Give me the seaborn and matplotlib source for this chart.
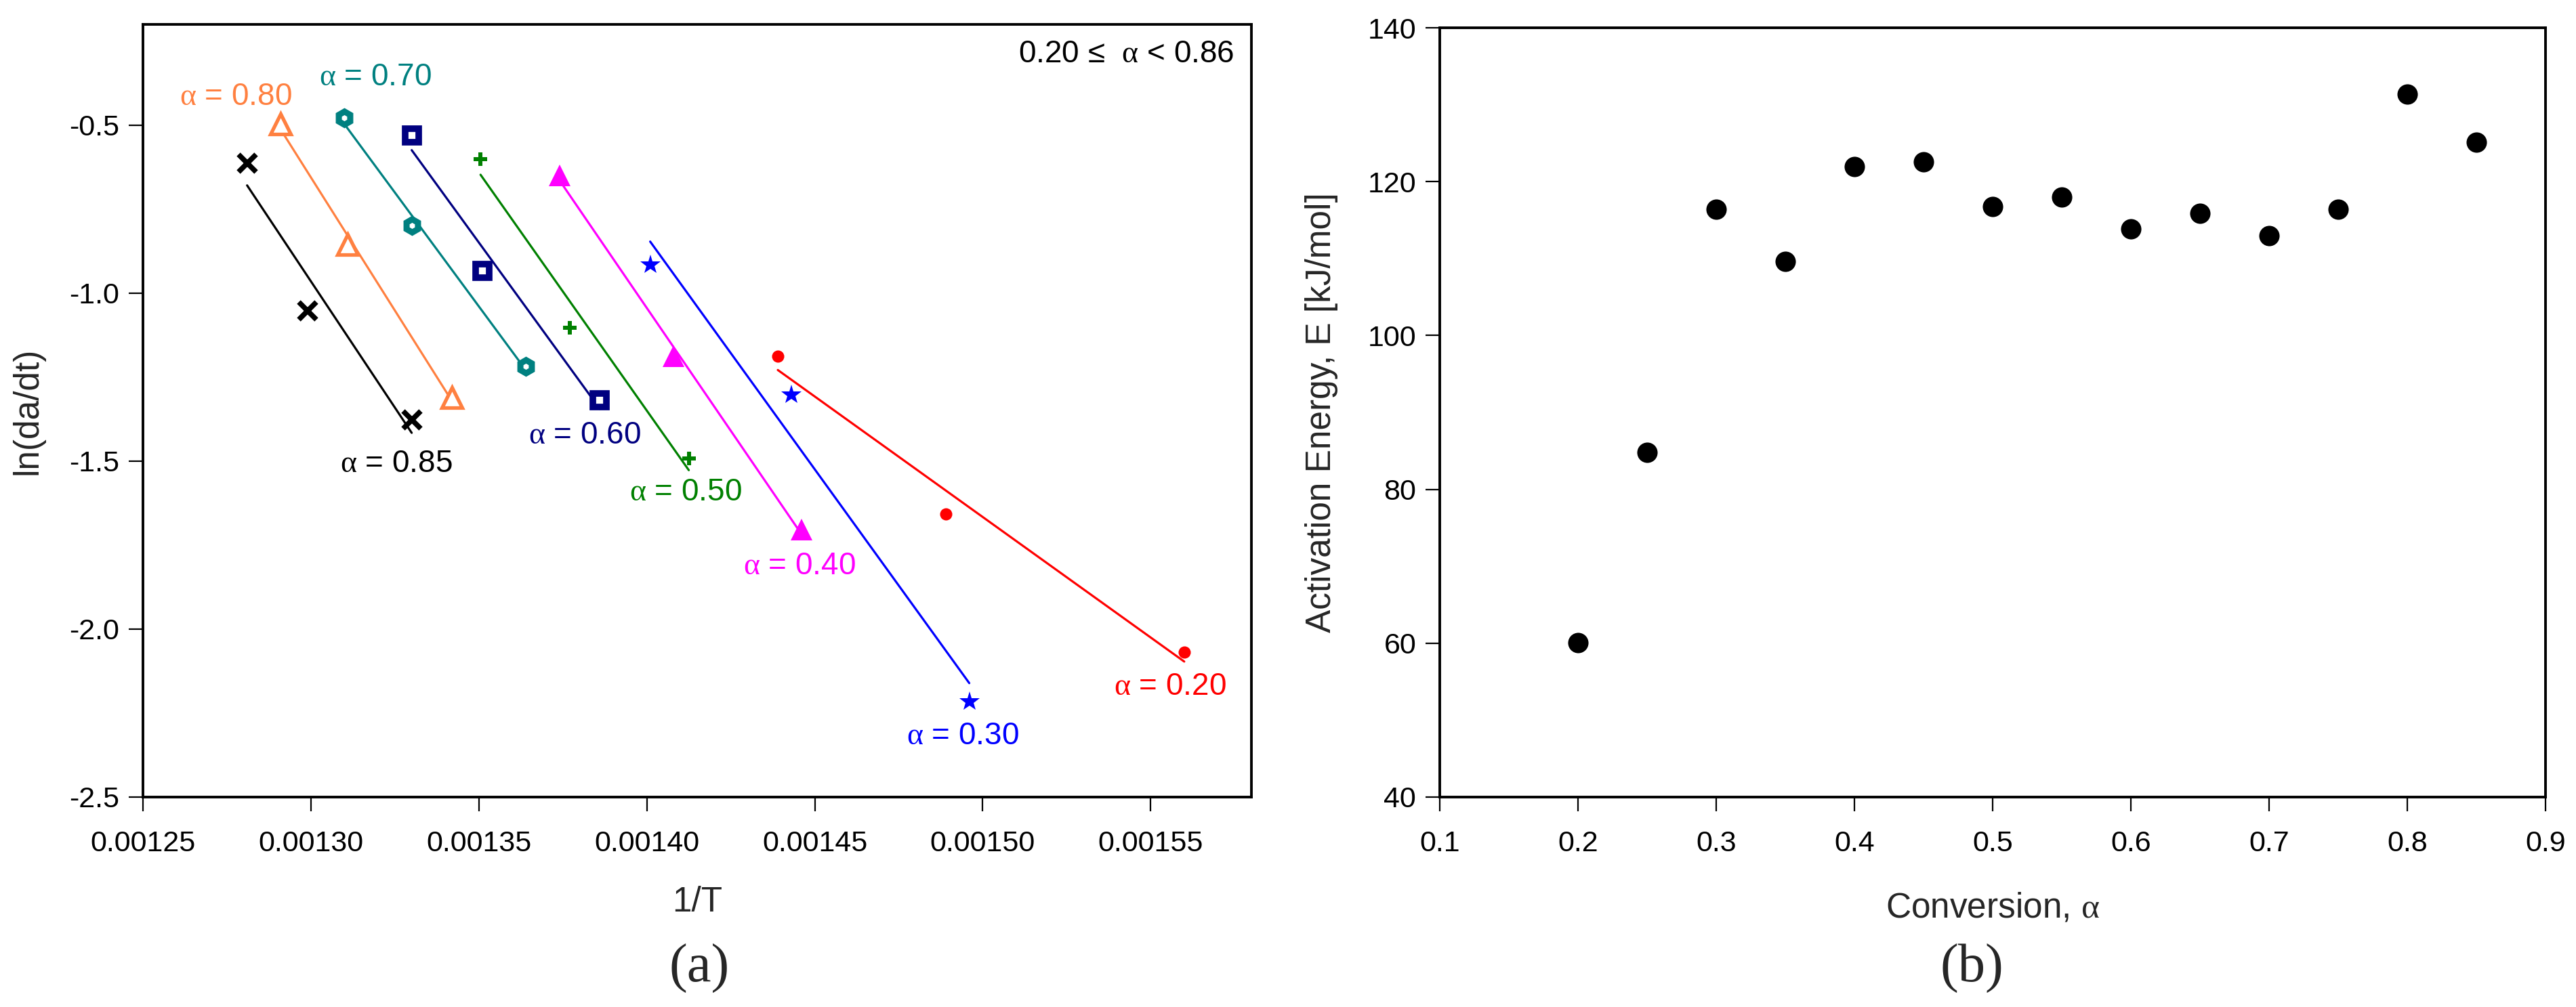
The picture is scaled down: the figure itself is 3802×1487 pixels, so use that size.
import numpy as np
import matplotlib
matplotlib.use("Agg")
import matplotlib.pyplot as plt
import seaborn as sns

# ---- panel (a): ln(da/dt) vs 1/T for each conversion level ----
alpha_labels = ["0.85", "0.80", "0.70", "0.60", "0.50", "0.40", "0.30", "0.20"]

inv_T = {
    "0.85": [0.001281, 0.001299, 0.001330],
    "0.80": [0.001291, 0.001311, 0.001342],
    "0.70": [0.001310, 0.001330, 0.001364],
    "0.60": [0.001330, 0.001351, 0.001386],
    "0.50": [0.0013505, 0.001377, 0.0014125],
    "0.40": [0.001374, 0.001408, 0.001446],
    "0.30": [0.001401, 0.001443, 0.001496],
    "0.20": [0.001439, 0.001489, 0.001560],
}
ln_rate = {
    "0.85": [-0.614, -1.053, -1.378],
    "0.80": [-0.497, -0.856, -1.311],
    "0.70": [-0.478, -0.799, -1.218],
    "0.60": [-0.530, -0.934, -1.318],
    "0.50": [-0.602, -1.103, -1.493],
    "0.40": [-0.650, -1.188, -1.704],
    "0.30": [-0.916, -1.303, -2.216],
    "0.20": [-1.188, -1.657, -2.068],
}
# where each "α = ..." note sits (data coords)
label_pos = {
    "0.85": (0.0013255, -1.508),
    "0.80": (0.0012776, -0.415),
    "0.70": (0.0013192, -0.358),
    "0.60": (0.0013815, -1.423),
    "0.50": (0.0014116, -1.592),
    "0.40": (0.0014454, -1.812),
    "0.30": (0.0014940, -2.318),
    "0.20": (0.0015557, -2.172),
}

# ---- panel (b): activation energy vs conversion ----
conversion = [0.20, 0.25, 0.30, 0.35, 0.40, 0.45, 0.50, 0.55, 0.60, 0.65, 0.70, 0.75, 0.80, 0.85]
energy = [60.1, 84.8, 116.4, 109.6, 122.0, 122.6, 116.8, 118.0, 113.9, 115.9, 113.0, 116.4, 131.4, 125.1]

# marker styles per series
styles = {
    "0.85": dict(color="#000000", marker="x", ms=19, mew=5.5, mfc="#000000"),
    "0.80": dict(color="#FF8040", marker="^", ms=21, mew=3.8, mfc="white"),
    "0.70": dict(color="#008080", marker="h", ms=14, mew=6.5, mfc="white"),
    "0.60": dict(color="#000080", marker="s", ms=14, mew=7, mfc="white"),
    "0.50": dict(color="#008000", marker="P", ms=15, mew=0, mfc="#008000"),
    "0.40": dict(color="#FF00FF", marker="^", ms=23, mew=0, mfc="#FF00FF"),
    "0.30": dict(color="#0000FF", marker="*", ms=22, mew=0, mfc="#0000FF"),
    "0.20": dict(color="#FF0000", marker="o", ms=13, mew=0, mfc="#FF0000"),
}

sns.set_style("ticks")
plt.rcParams["font.family"] = ["Liberation Sans", "DejaVu Sans"]
plt.rcParams["mathtext.fontset"] = "custom"
plt.rcParams["mathtext.rm"] = "Liberation Serif"
plt.rcParams["mathtext.it"] = "Liberation Serif"
plt.rcParams["axes.unicode_minus"] = False

fig = plt.figure(figsize=(38.02, 14.87), dpi=100)
ax1 = fig.add_axes([0.0555, 0.2085, 0.4303, 0.7673])
ax2 = fig.add_axes([0.5589, 0.2085, 0.4293, 0.7639])

tick_fs = 31
label_fs = 37
note_fs = 33

for key in alpha_labels:
    st = styles[key]
    x = np.array(inv_T[key])
    y = np.array(ln_rate[key])
    sns.regplot(x=x, y=y, ax=ax1, scatter=False, ci=None, truncate=True,
                color=st["color"], line_kws=dict(lw=2.3, zorder=2))
    ax1.plot(x, y, ls="none", marker=st["marker"], ms=st["ms"], mew=st["mew"],
             mec=st["color"], mfc=st["mfc"], zorder=3)
    lx, ly = label_pos[key]
    ax1.text(lx, ly, r"$\alpha$ = " + key, color=st["color"], fontsize=note_fs,
             ha="center", va="center")

ax1.text(0.984, 0.961, "0.20 \u2264  " + r"$\alpha$" + " < 0.86", transform=ax1.transAxes,
         ha="right", va="center", fontsize=note_fs, color="black")

ax1.set_xlim(0.00125, 0.00158)
ax1.set_ylim(-2.5, -0.2)
ax1.set_xticks([0.00125, 0.00130, 0.00135, 0.00140, 0.00145, 0.00150, 0.00155])
ax1.set_xticklabels(["%.5f" % v for v in ax1.get_xticks()])
ax1.set_yticks([-2.5, -2.0, -1.5, -1.0, -0.5])
ax1.set_yticklabels(["%.1f" % v for v in ax1.get_yticks()])
ax1.set_xlabel("1/T", fontsize=label_fs)
ax1.set_ylabel("ln(da/dt)", fontsize=label_fs)
ax1.xaxis.set_label_coords(0.5, -0.115)
ax1.yaxis.set_label_coords(-0.089, 0.5)

sns.scatterplot(x=conversion, y=energy, ax=ax2, color="black", s=470,
                edgecolor="black", linewidth=0, zorder=3)
ax2.set_xlim(0.1, 0.9)
ax2.set_ylim(40, 140)
ax2.set_xticks(np.arange(1, 10) / 10)
ax2.set_xticklabels(["%.1f" % v for v in ax2.get_xticks()])
ax2.set_yticks(range(40, 141, 20))
ax2.set_xlabel(r"Conversion, $\alpha$", fontsize=label_fs)
ax2.set_ylabel("Activation Energy, E [kJ/mol]", fontsize=label_fs)
ax2.xaxis.set_label_coords(0.5, -0.123)
ax2.yaxis.set_label_coords(-0.092, 0.5)

for ax in (ax1, ax2):
    for sp in ax.spines.values():
        sp.set_visible(True)
        sp.set_linewidth(2.8)
        sp.set_color("black")
    ax.tick_params(axis="both", which="major", direction="out", length=15, width=1.6,
                   labelsize=tick_fs, colors="black")
    ax.tick_params(axis="x", pad=20)
    ax.tick_params(axis="y", pad=10)
    ax.tick_params(top=False, right=False)
    ax.grid(False)

fig.text(1032 / 3802, 1 - 1430 / 1487, "(a)", fontsize=58, family="Liberation Serif",
         ha="center", va="center")
fig.text(2910 / 3802, 1 - 1430 / 1487, "(b)", fontsize=58, family="Liberation Serif",
         ha="center", va="center")

fig.savefig("out.png", dpi=100, facecolor="white")
